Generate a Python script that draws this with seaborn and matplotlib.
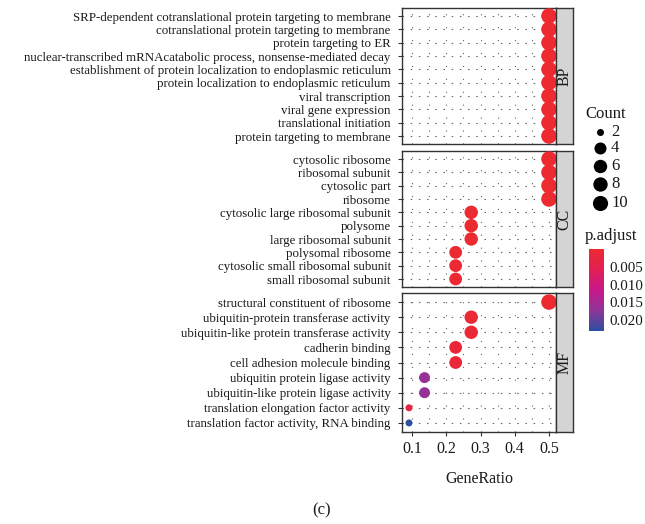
import numpy as np
import pandas as pd
import matplotlib
matplotlib.use("Agg")
import matplotlib.pyplot as plt
from matplotlib.colors import LinearSegmentedColormap, Normalize
import seaborn as sns

# ---------------- data ----------------
bp_terms = [
    "SRP-dependent cotranslational protein targeting to membrane",
    "cotranslational protein targeting to membrane",
    "protein targeting to ER",
    "nuclear-transcribed mRNAcatabolic process, nonsense-mediated decay",
    "establishment of protein localization to endoplasmic reticulum",
    "protein localization to endoplasmic reticulum",
    "viral transcription",
    "viral gene expression",
    "translational initiation",
    "protein targeting to membrane",
]
bp_count = [11, 11, 11, 11, 11, 11, 11, 11, 11, 11]
bp_padj = [1e-9, 1e-9, 1e-9, 1e-9, 1e-9, 1e-9, 1e-9, 1e-9, 1e-9, 1e-9]

cc_terms = [
    "cytosolic ribosome",
    "ribosomal subunit",
    "cytosolic part",
    "ribosome",
    "cytosolic large ribosomal subunit",
    "polysome",
    "large ribosomal subunit",
    "polysomal ribosome",
    "cytosolic small ribosomal subunit",
    "small ribosomal subunit",
]
cc_count = [11, 11, 11, 11, 6, 6, 6, 5, 5, 5]
cc_padj = [1e-9, 1e-9, 1e-9, 1e-9, 2e-4, 2e-4, 2e-4, 5e-4, 5e-4, 5e-4]

mf_terms = [
    "structural constituent of ribosome",
    "ubiquitin-protein transferase activity",
    "ubiquitin-like protein transferase activity",
    "cadherin binding",
    "cell adhesion molecule binding",
    "ubiquitin protein ligase activity",
    "ubiquitin-like protein ligase activity",
    "translation elongation factor activity",
    "translation factor activity, RNA binding",
]
mf_count = [11, 6, 6, 5, 5, 3, 3, 2, 2]
mf_padj = [1e-9, 1e-3, 1e-3, 1.5e-3, 1.5e-3, 0.0165, 0.0165, 0.003, 0.023]

total_genes = 22
ontologies = ["BP", "CC", "MF"]
x_ticks = [0.1, 0.2, 0.3, 0.4, 0.5]
count_breaks = [2, 4, 6, 8, 10]
padj_breaks = [0.005, 0.010, 0.015, 0.020]

frames = []
for ont, terms, cnt, pa in [("BP", bp_terms, bp_count, bp_padj),
                            ("CC", cc_terms, cc_count, cc_padj),
                            ("MF", mf_terms, mf_count, mf_padj)]:
    frames.append(pd.DataFrame({"ONTOLOGY": ont, "Description": terms,
                                "Count": cnt, "p.adjust": pa}))
df = pd.concat(frames, ignore_index=True)
df["GeneRatio"] = df["Count"] / total_genes

# ---------------- style ----------------
sns.set_theme(style="white")
plt.rcParams["font.family"] = ["Liberation Serif", "DejaVu Serif"]
plt.rcParams["lines.scale_dashes"] = False

W, H = 645, 524
fig = plt.figure(figsize=(W / 100, H / 100), dpi=100)

cmap = LinearSegmentedColormap.from_list(
    "padj", ["#ec2a30", "#e21f55", "#c8188a", "#8f3597", "#2c50a2"])
vmin, vmax = df["p.adjust"].min(), df["p.adjust"].max()
norm = Normalize(vmin=vmin, vmax=vmax)

cmin, cmax = 2, 11
def diam_px(c):
    t = np.clip((c - cmin) / (cmax - cmin), 0, 1)
    return 7 + 8.5 * t ** 0.35

def area(c):
    return (diam_px(c) * 0.72) ** 2

size_map = {c: area(c) for c in sorted(set(df["Count"]))}

def fig_rect(x0, y0, x1, y1):
    return [x0 / W, 1 - y1 / H, (x1 - x0) / W, (y1 - y0) / H]

panels = {"BP": (8, 144), "CC": (151, 287), "MF": (293, 432)}
px0, px1, sx1 = 402, 556, 573
xlim = (0.0705, 0.5205)
edge = "#333333"
txt = "#1a1a1a"
grid_c = "#666666"

for ont in ontologies:
    y0, y1 = panels[ont]
    sub = df[df["ONTOLOGY"] == ont]
    n = len(sub)
    ax = fig.add_axes(fig_rect(px0, y0, px1, y1))
    # dotted grid
    for xv in np.arange(0.1, 0.5001, 0.05):
        ax.axvline(xv, color=grid_c, lw=0.8, linestyle=(0, (0.8, 8.5)), zorder=0)
    for yv in range(n):
        ax.axhline(yv, color=grid_c, lw=0.8, linestyle=(0, (1.1, 4.8)), zorder=0)
    sns.scatterplot(data=sub, x="GeneRatio", y="Description", hue="p.adjust",
                    hue_norm=norm, palette=cmap, size="Count", sizes=size_map,
                    linewidth=0, legend=False, ax=ax, zorder=3, clip_on=False)
    ax.set_xlim(*xlim)
    ax.set_ylim(n - 1 + 0.6, -0.6)
    ax.set_xlabel("")
    ax.set_ylabel("")
    ax.set_xticks(x_ticks)
    ax.tick_params(axis="y", left=True, length=2.6, width=0.8, color=edge,
                   labelsize=9.3, pad=5.5, labelcolor=txt)
    if ont == "MF":
        ax.tick_params(axis="x", bottom=True, length=2.6, width=0.8, color=edge,
                       labelsize=11.5, pad=4, labelcolor=txt)
        ax.set_xticklabels([f"{v:.1f}" for v in x_ticks])
        ax.set_xlabel("GeneRatio", fontsize=11.5, labelpad=10, color=txt)
    else:
        ax.tick_params(axis="x", bottom=False, labelbottom=False)
    for sp in ax.spines.values():
        sp.set_color(edge)
        sp.set_linewidth(1.0)
    # strip
    sax = fig.add_axes(fig_rect(px1, y0, sx1, y1))
    sax.set_facecolor("#d4d4d4")
    sax.set_xticks([])
    sax.set_yticks([])
    for sp in sax.spines.values():
        sp.set_color(edge)
        sp.set_linewidth(1.0)
    sax.text(0.5, 0.5, ont, rotation=90, ha="center", va="center",
             fontsize=11.5, color=txt, transform=sax.transAxes)

# ---------------- size legend ----------------
lax = fig.add_axes([0, 0, 1, 1], facecolor="none")
lax.set_xlim(0, W)
lax.set_ylim(H, 0)
lax.axis("off")
lax.text(585, 114, "Count", fontsize=12, va="center", ha="left", color=txt)
leg_y = [132, 148, 166, 184, 203]
for c, yy in zip(count_breaks, leg_y):
    lax.scatter([600], [yy], s=area(c), color="black", linewidth=0)
    lax.text(611, yy, str(c), fontsize=12, va="center", ha="left", color=txt)
lax.text(585, 236, "p.adjust", fontsize=12, va="center", ha="left", color=txt)
lax.text(322, 510, "(c)", fontsize=12, va="center", ha="center", color=txt)

# ---------------- colorbar ----------------
cax = fig.add_axes(fig_rect(589, 249, 604, 331))
cb = fig.colorbar(plt.cm.ScalarMappable(norm=norm, cmap=cmap), cax=cax)
cb.outline.set_visible(False)
cax.invert_yaxis()
cb.set_ticks(padj_breaks)
cb.set_ticklabels([f"{v:.3f}" for v in padj_breaks])
cax.tick_params(length=0, labelsize=10.8, pad=4, labelcolor=txt)

fig.savefig("out.png", dpi=100)
